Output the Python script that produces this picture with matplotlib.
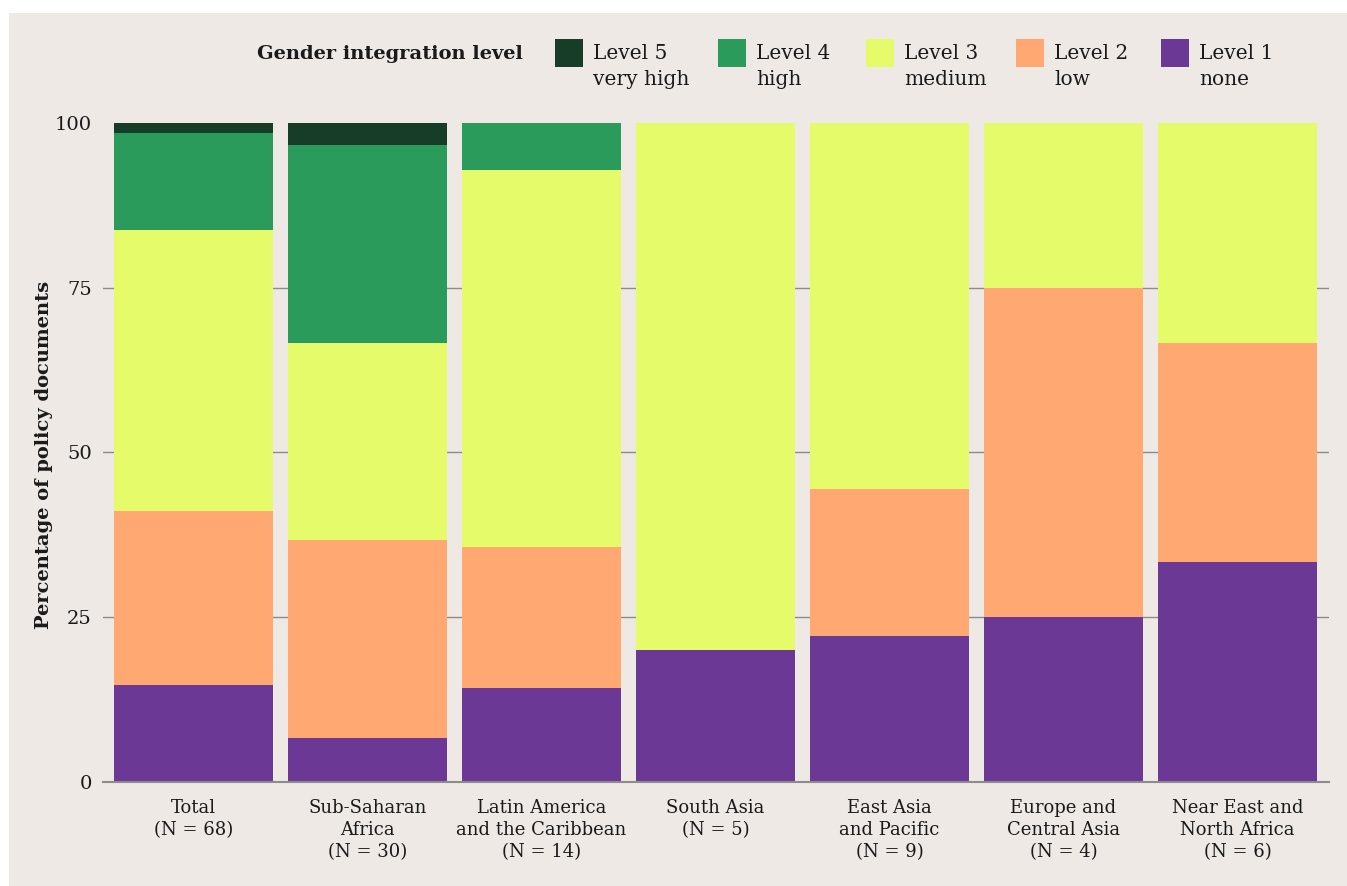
import matplotlib
matplotlib.use('Agg')
import matplotlib.pyplot as plt
from matplotlib.patches import Rectangle
import numpy as np

# policy documents per region, counted by gender integration level
regions = ['Total', 'Sub-Saharan\nAfrica', 'Latin America\nand the Caribbean', 'South Asia',
           'East Asia\nand Pacific', 'Europe and\nCentral Asia', 'Near East and\nNorth Africa']
n_docs = [68, 30, 14, 5, 9, 4, 6]
level1 = [10, 2, 2, 1, 2, 1, 2]
level2 = [18, 9, 3, 0, 2, 2, 2]
level3 = [29, 9, 8, 4, 5, 1, 2]
level4 = [10, 9, 1, 0, 0, 0, 0]
level5 = [1, 1, 0, 0, 0, 0, 0]

level_names = ['Level 1\nnone', 'Level 2\nlow', 'Level 3\nmedium', 'Level 4\nhigh', 'Level 5\nvery high']
colors = ['#6b3895', '#ffa872', '#e6fb6a', '#2a9b5a', '#173d28']
yticks = [0, 25, 50, 75, 100]

bg = '#eee9e5'
ink = '#1a1a1a'
serif = 'DejaVu Serif'

W, H = 1347, 886
fig = plt.figure(figsize=(W / 100, H / 100), dpi=100)
fig.patch.set_facecolor('white')
fig.patches.append(Rectangle((9 / W, 0), 1 - 9 / W, 1 - 13 / H, transform=fig.transFigure,
                             facecolor=bg, edgecolor='none', zorder=-10))

ax = fig.add_axes([103 / W, (H - 782) / H, (1329 - 103) / W, (782 - 123) / H])
ax.set_facecolor('none')
ax.set_zorder(1)

x = np.arange(len(regions))
n = np.array(n_docs, dtype=float)
bottom = np.zeros(len(regions))
for counts, c in zip([level1, level2, level3, level4, level5], colors):
    pct = np.array(counts) / n * 100
    ax.bar(x, pct, width=0.914, bottom=bottom, color=c, zorder=2)
    bottom += pct

for yv in [25, 50, 75]:
    ax.axhline(yv, color='#8c8c8c', linewidth=1, zorder=1)

ax.set_xlim(-0.52, 6.526)
ax.set_ylim(0, 100)
ax.set_yticks(yticks)
ax.set_yticklabels([str(t) for t in yticks], fontfamily=serif, fontsize=14, color=ink)
ax.set_xticks(x)
ax.set_xticklabels([f'{r}\n(N = {k})' for r, k in zip(regions, n_docs)],
                   fontfamily=serif, fontsize=13, color=ink, linespacing=1.3)
ax.tick_params(length=0)
ax.tick_params(axis='y', pad=8)
ax.tick_params(axis='x', pad=12)
for s in ['top', 'right', 'left']:
    ax.spines[s].set_visible(False)
ax.spines['bottom'].set_color('#8c8c8c')
ax.spines['bottom'].set_linewidth(1.5)
ax.spines['bottom'].set_zorder(3)

fig.text(44 / W, 1 - 455 / H, 'Percentage of policy documents', rotation=90,
         ha='center', va='center', fontfamily=serif, fontsize=14, fontweight='bold', color=ink)

# legend drawn by hand across the top
fig.text(523 / W, 1 - 54 / H, 'Gender integration level', ha='right', va='center',
         fontfamily=serif, fontsize=14, fontweight='bold', color=ink)
patch_x = [1161, 1016, 866, 718, 555]
for px, name, c in zip(patch_x, level_names, colors):
    fig.patches.append(Rectangle((px / W, 1 - 67 / H), 28 / W, 28 / H, transform=fig.transFigure,
                                 facecolor=c, edgecolor='none'))
    fig.text((px + 38) / W, 1 - 44 / H, name, ha='left', va='top', fontfamily=serif,
             fontsize=14.5, color=ink, linespacing=1.45)

fig.savefig('out.png', dpi=100, facecolor=fig.get_facecolor())
